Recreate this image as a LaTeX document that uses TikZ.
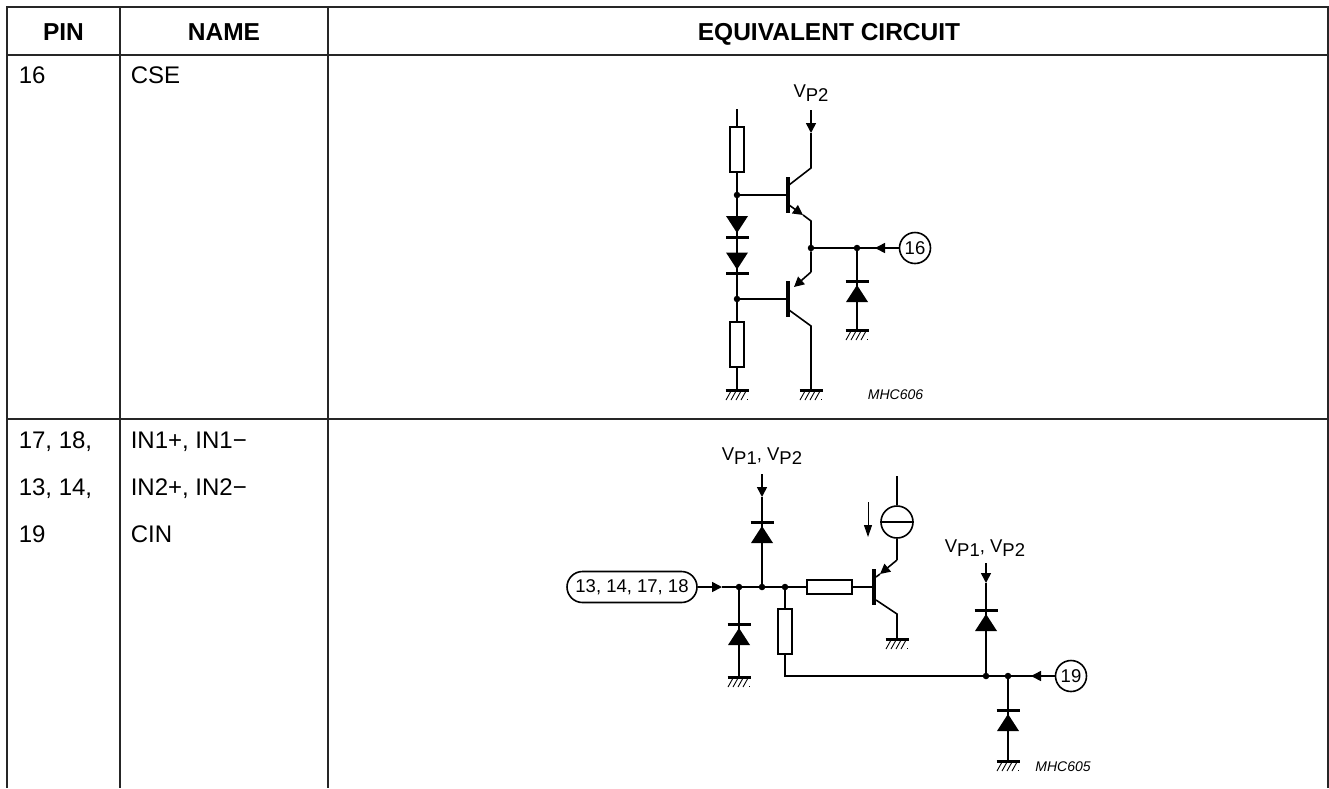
\documentclass[tikz,border=0pt]{standalone}
\usepackage{fontspec}
\setmainfont{Liberation Sans}
\usetikzlibrary{arrows.meta, calc, positioning}

\tikzset{
    ground/.pic={
        \draw[line width=3pt] (-11.5,0) -- (11.5,0);
        \foreach \i in {-6,-1,4,9}
        \draw[line width=0.9pt] (\i,1) -- (\i-5,10);
        \fill (10,9) rectangle (11,10);
    },
    diode/.pic={
        \fill (-11,8.5) -- (11,8.5) -- (0,-8.5) -- cycle;
        \draw[line width=3pt] (-11.5,-12.5) -- (11.5,-12.5);
    }
}
\newcommand{\vsup}[1]{V\raisebox{-4.5pt}{#1}}

\begin{document}
\begin{tikzpicture}[x=1pt, y=-1pt, line width=1.6pt, >={Triangle[length=10pt, width=10pt]}]
    \tikzstyle{tablerule}=[line width=2pt, black!85]
    \tikzstyle{headtext}=[anchor=base, inner sep=0pt, font=\fontsize{24.5}{28}\selectfont\bfseries]
    \tikzstyle{celltext}=[anchor=base west, inner sep=0pt, font=\fontsize{24}{28}\selectfont]
    \tikzstyle{annot}=[inner sep=0pt, font=\fontsize{18.5}{20}\selectfont]
    \tikzstyle{codetext}=[inner sep=0pt, font=\fontsize{14}{16}\selectfont\itshape]
    \tikzstyle{resistor}=[draw, fill=white, inner sep=0pt, minimum width=14pt, minimum height=45pt]
    \tikzstyle{junction}=[fill, circle, inner sep=0pt, outer sep=0pt, minimum size=6.5pt]
    \tikzstyle{basebar}=[fill, inner sep=0pt, outer sep=0pt, minimum width=3.4pt, minimum height=36pt]
    \tikzstyle{pinmark}=[annot, draw, circle, minimum size=31pt]

    \useasboundingbox (0,0) rectangle (1329,788);

    % Draw the table
    \coordinate (tl) at (7,7);
    \coordinate (tr) at (1328,7);
    \foreach \name / \y in {h/55, r/419}
    \draw[tablerule] (7,\y) coordinate (\name-l) -- (1328,\y) coordinate (\name-r);
    \draw[tablerule] (tl) -- (tr);
    \foreach \name / \x in {a/7, b/120, c/328, d/1328}
    \draw[tablerule] (\x,6) coordinate (\name-t) -- (\x,788) coordinate (\name-b);

    % Table texts
    \node[headtext] (t-pin) at (63.5,40) {PIN};
    \node[headtext] (t-name) at (224,40) {NAME};
    \node[headtext] (t-circuit) at (829,40) {EQUIVALENT CIRCUIT};
    \foreach \name / \x / \y / \txt in {p1/18/83/16, n1/130/83/CSE, p2/18/448/{17, 18,}, p3/18/495/{13, 14,}, p4/18/542/19,
        n2/130/448/{IN1+, IN1−}, n3/130/495/{IN2+, IN2−}, n4/130/542/CIN}
    \node[celltext] (\name) at (\x,\y) {\txt};

    % Upper circuit
    \node[annot] (VP2) at (811,93) {\vsup{P2}};
    \node[pinmark] (P16) at (915,248) {16};
    \node[codetext] (MHC606) at (895.5,395) {MHC606};
    \node[resistor] (R1) at (737,149.5) {};
    \node[resistor] (R2) at (737,344.5) {};
    \node[basebar] (Q1) at (788,195) {};
    \node[basebar] (Q2) at (788,299) {};
    \foreach \name / \x / \y in {J1/737/195, J2/737/299, J3/811/248, J4/857/248}
    \node[junction] (\name) at (\x,\y) {};
    \foreach \name / \x / \y in {D1/737/224.5, D2/737/261, D3/857/293.5, G1/737/390, G2/811/390, G3/857/330,
        S1/737/109, S2/811/110, T1/811/133, C1/811/168, B1/789/185, B2/789/205, T2/803/215, C2/811/221,
        C3/811/272, T3/794/287, B3/789/310, C4/811/326, T4/875/248}
    \coordinate (\name) at (\x,\y);
    \foreach \name in {D1, D2}
    \pic[rotate=180] at (\name) {diode};
    \pic at (D3) {diode};
    \foreach \name in {G1, G2, G3}
    \pic at (\name) {ground};
    \draw (S1) -- (R1) -- (J1) -- (J2) -- (R2) -- (G1);
    \draw (J1) -- (Q1);
    \draw (J2) -- (Q2);
    \draw[->] (S2) -- (T1);
    \draw (T1) -- (C1) -- (B1);
    \draw[->] (B2) -- (T2);
    \draw (T2) -- (C2) -- (J3) -- (C3);
    \draw[->] (C3) -- (T3);
    \draw (B3) -- (C4) -- (G2);
    \draw (J3) -- (J4) -- (P16);
    \draw[<-] (T4) -- (P16);
    \draw (J4) -- (G3);

    % Lower circuit
    \node[annot] (VA) at (762,456) {\vsup{P1}, \vsup{P2}};
    \node[annot] (VB) at (985,548) {\vsup{P1}, \vsup{P2}};
    \node[annot, draw, rounded corners=15.5pt, minimum width=130pt, minimum height=31pt] (P13) at (632,587) {13, 14, 17, 18};
    \node[pinmark] (P19) at (1071,676) {19};
    \node[codetext] (MHC605) at (1063,767) {MHC605};
    \node[resistor, minimum width=45pt, minimum height=14pt] (R3) at (829.5,587) {};
    \node[resistor] (R4) at (785,631.5) {};
    \node[basebar] (Q3) at (874,587) {};
    \node[draw, circle, inner sep=0pt, minimum size=32pt] (I1) at (897,522) {};
    \foreach \name / \x / \y in {J5/739/587, J6/762/587, J7/785/587, J8/986/676, J9/1008/676}
    \node[junction] (\name) at (\x,\y) {};
    \foreach \name / \x / \y in {D4/762/534.5, D5/739/636.5, D6/986/622.5, D7/1008/722.5, G4/739/677, G5/897/639, G6/1008/761,
        S3/762/474, T5/762/497, S4/986/563, T6/986/583, T7/722/587, S5/897/476, C5/897/560, T8/880/574, B4/876/577,
        B5/876/600, C6/897/614, L1/785/676, T9/1031/676, A1/868/502, A2/868/537}
    \coordinate (\name) at (\x,\y);
    \foreach \name in {D4, D5, D6, D7}
    \pic at (\name) {diode};
    \foreach \name in {G4, G5, G6}
    \pic at (\name) {ground};
    \draw[->] (P13) -- (T7);
    \draw (T7) -- (J5) -- (J6) -- (J7) -- (R3) -- (Q3);
    \draw[->] (S3) -- (T5);
    \draw (T5) -- (J6);
    \draw (J5) -- (G4);
    \draw (J7) -- (R4) -- (L1) -- (J8) -- (J9) -- (P19);
    \draw[<-] (T9) -- (P19);
    \draw[->] (S4) -- (T6);
    \draw (T6) -- (J8);
    \draw (J9) -- (G6);
    \draw (S5) -- (I1);
    \draw (I1.west) -- (I1.east);
    \draw (I1) -- (C5);
    \draw[->] (C5) -- (T8);
    \draw (T8) -- (B4);
    \draw (B5) -- (C6) -- (G5);
    \draw[line width=1pt, -{Triangle[length=12pt, width=8pt]}] (A1) -- (A2);
\end{tikzpicture}
\end{document}
